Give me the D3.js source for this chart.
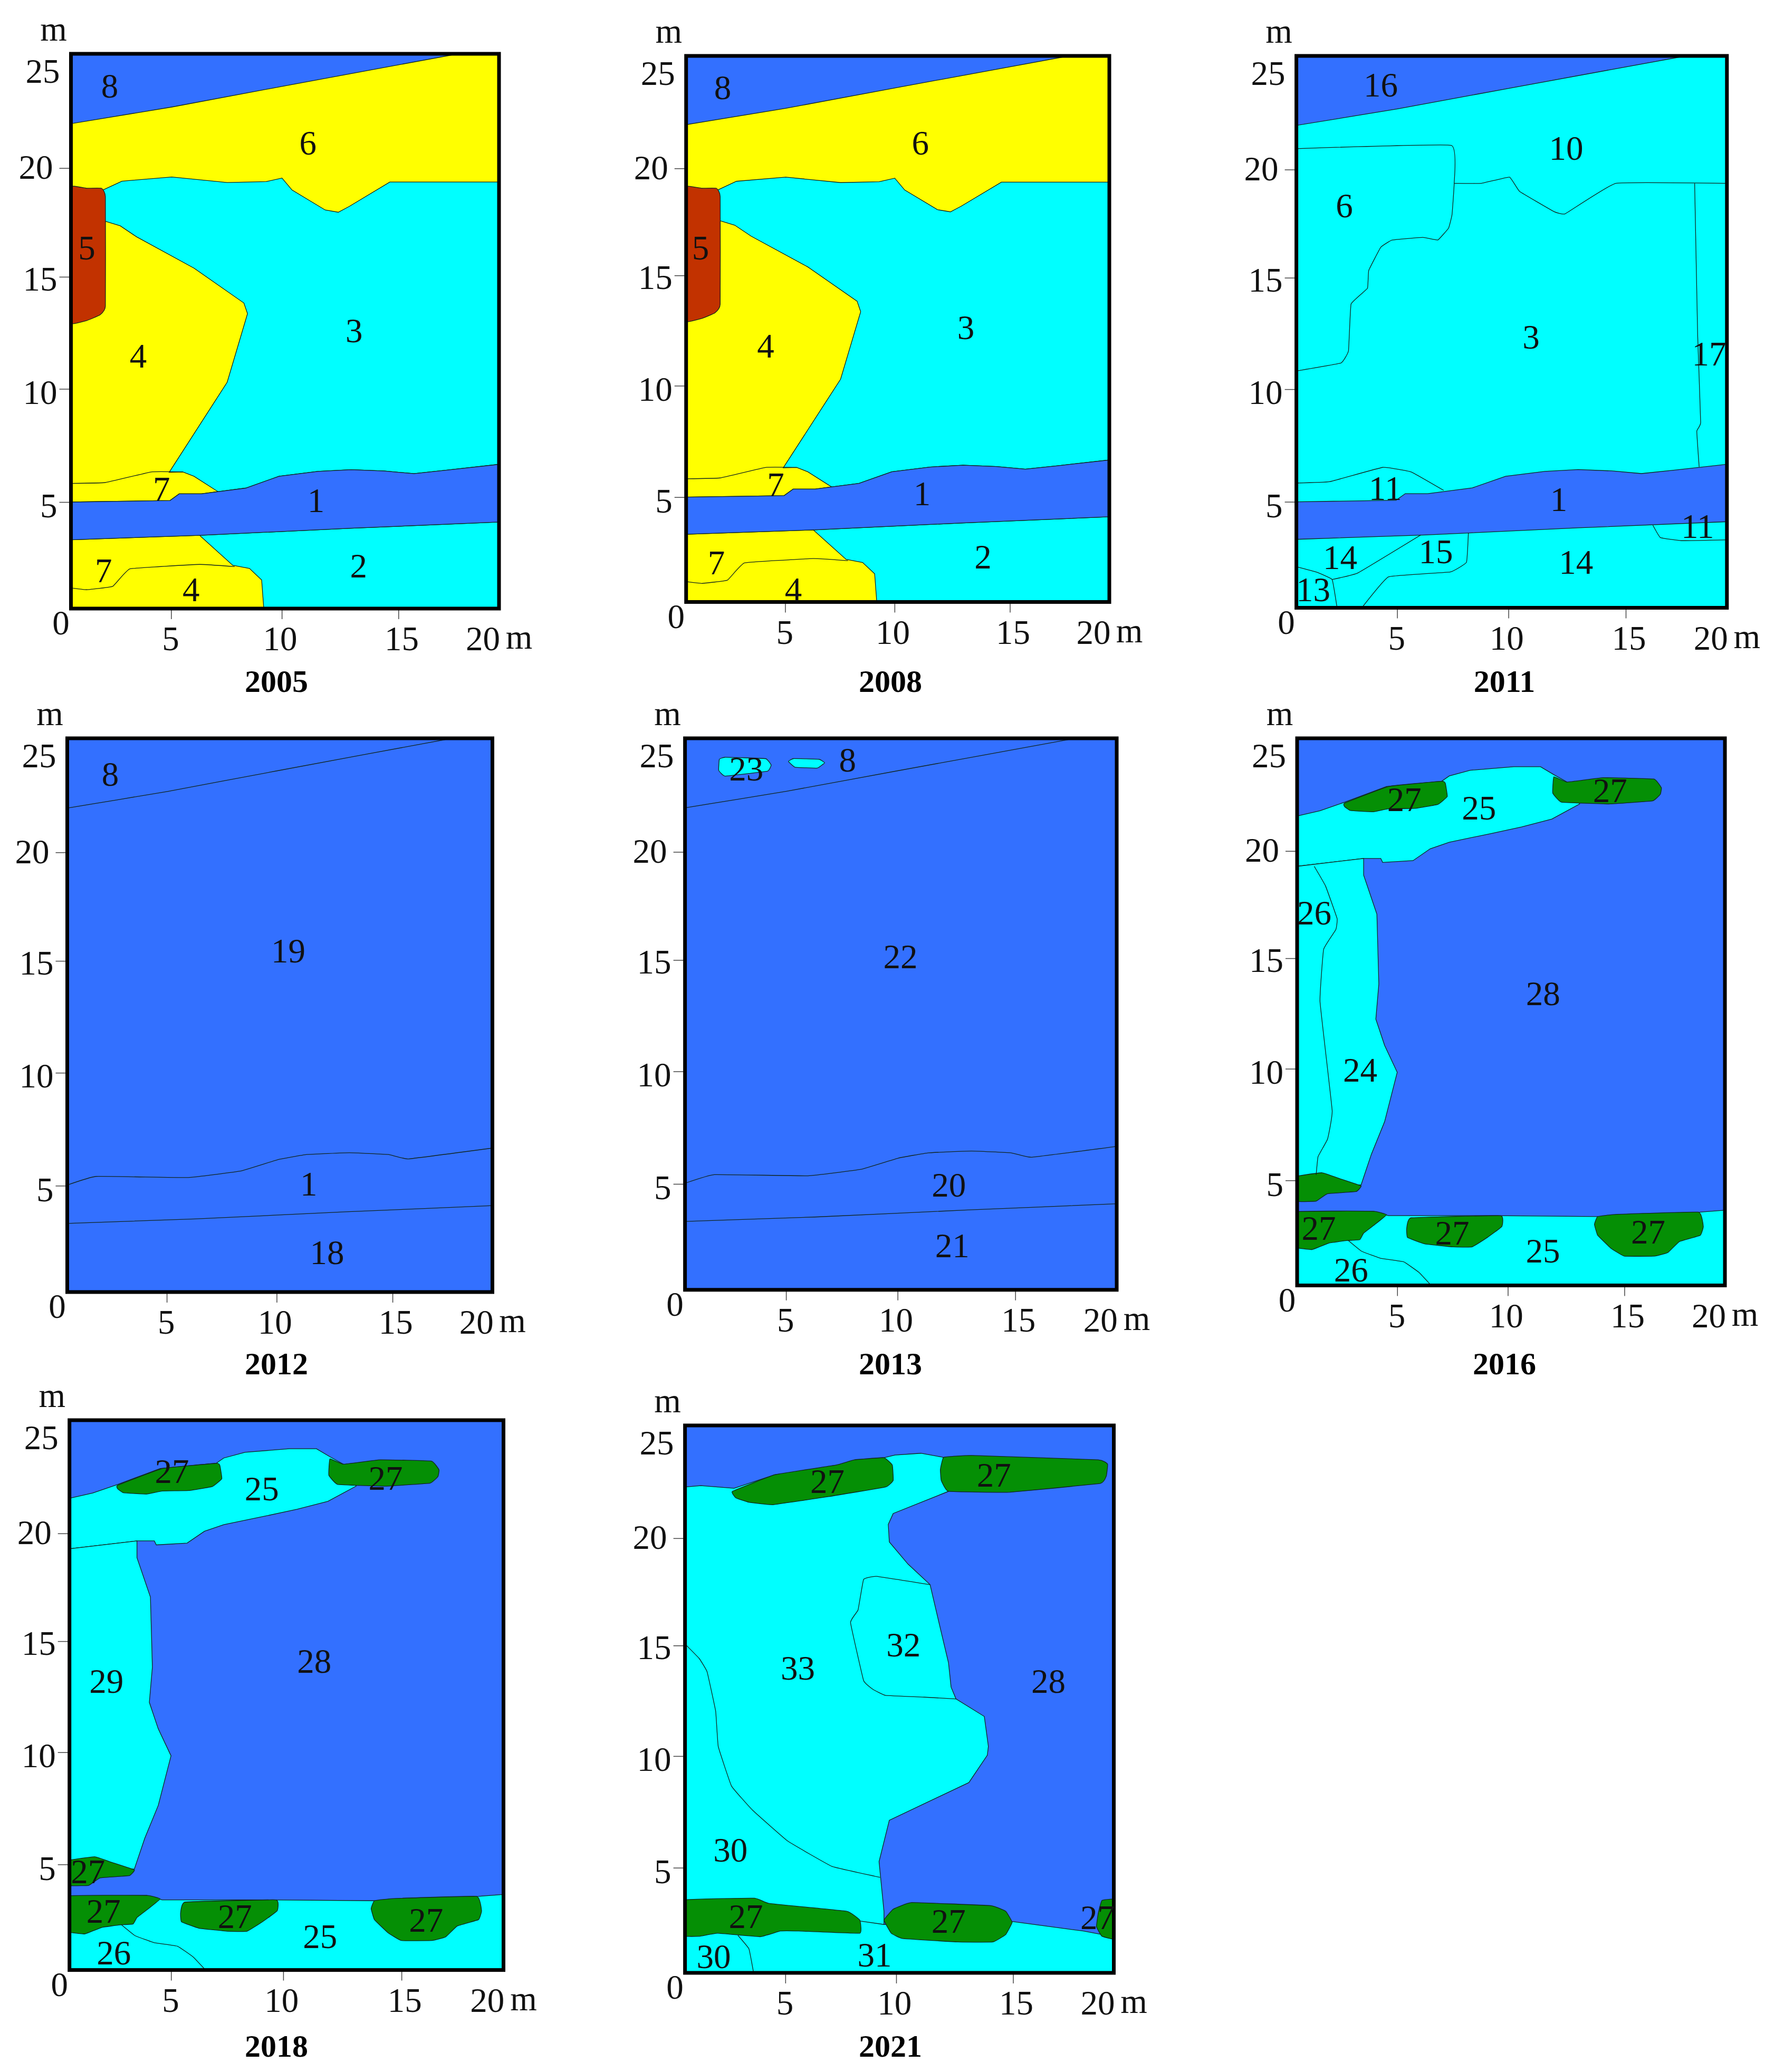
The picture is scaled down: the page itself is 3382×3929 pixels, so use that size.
<!DOCTYPE html>
<html>
<head>
<meta charset="utf-8">
<script src="https://cdn.jsdelivr.net/npm/d3@7"></script>
<style>
  body { margin: 0; background: #fff; }
  text { font-family: "Liberation Serif", serif; fill: #111; }
</style>
</head>
<body>
<svg id="chart" width="3382" height="3929"></svg>
<script>
// Axis readings, metres along the plot frame (the drawn ticks are a little uneven)
var xTickAt = [4.68, 9.85, 15.3];
var yTickAt = [4.8, 9.9, 14.95, 19.85];
var xLabels = ["5", "10", "15", "20"];
var xLabelAt = [4.66, 9.77, 15.45, 19.25];
var yLabels = ["5", "10", "15", "20", "25"];
var yLabelAt = [4.61, 9.74, 14.84, 19.87, 24.2];
var yLabelGap = [26, 26, 26, 34, 21];

// Boundaries shared by 2005 - 2013 (metres)
var top8Line = [[0, 21.85], [4.71, 22.6], [9.86, 23.53], [18.1, 25]];
var band1Top = [[0, 4.8], [4.63, 4.87], [5.06, 5.17], [6.1, 5.17], [8.17, 5.43], [9.72, 5.96], [11.54, 6.18], [13.09, 6.26], [14.64, 6.2], [16.03, 6.08], [17.58, 6.24], [20, 6.5]];
var band1TopPlain = [[0, 4.83], [1.36, 5.22], [5.7, 5.17], [8.14, 5.46], [9.88, 5.97], [11.27, 6.21], [13.27, 6.29], [15.1, 6.21], [16.05, 6.01], [20, 6.5]];
var band1Bottom = [[0, 3.1], [6.01, 3.3], [13.09, 3.62], [20, 3.9]];
var region3Top = [[1.49, 18.86], [2.38, 19.26], [4.71, 19.45], [7.3, 19.2], [9.12, 19.24], [9.86, 19.4], [10.33, 18.86], [11.88, 17.96], [12.49, 17.86], [13, 18.12], [14.9, 19.22], [20, 19.22]];
var region4Edge = [[1.61, 17.45], [2.3, 17.25], [3.07, 16.75], [5.75, 15.34], [8.08, 13.77], [8.25, 13.29], [7.3, 10.2], [4.59, 6.14]];
var upper7Top = [[0, 5.64], [1.61, 5.68], [3.76, 6.16], [5.23, 6.16], [5.75, 5.96], [6.87, 5.27]];
var lower7Edge = [[6.01, 3.3], [7.56, 1.95], [8.34, 1.81], [8.91, 1.29], [9.01, 0]];
var lower7Line = [[0, 0.93], [0.74, 0.85], [1.95, 1], [2.76, 1.79], [6.01, 1.99], [7.65, 1.89]];
var region5 = [[-0.3, 18.92], [0.74, 18.94], [1.43, 18.94], [1.61, 18.56], [1.61, 13.63], [1.35, 13.23], [0.74, 12.98], [-0.3, 12.92]];

// 2011 only
var line6 = [[0, 20.8], [7.19, 20.95], [7.33, 19.23], [7.23, 17.81], [7.07, 17.2], [6.57, 16.66], [5.87, 16.78], [4.45, 16.66], [3.92, 16.33], [3.36, 15.28], [3.3, 14.47], [2.54, 13.76], [2.42, 11.64], [2.07, 11.09], [0, 10.73]];
var line10 = [[7.33, 19.23], [8.6, 19.23], [9.9, 19.51], [10.37, 18.86], [11.96, 17.95], [12.49, 17.85], [14.84, 19.23], [20, 19.23]];
var line17 = [[18.5, 19.23], [18.64, 12.35], [18.78, 8.4], [18.6, 8], [18.71, 6.38]];
var line11Upper = [[0, 5.65], [1.54, 5.71], [4.01, 6.36], [5.34, 6.15], [6.84, 5.32]];
var line11Lower = [[16.56, 3.74], [16.91, 3.18], [17.88, 3.04], [20, 3.08]];
var line14 = [[5.78, 3.3], [2.86, 1.58], [1.66, 1.28]];
var line13 = [[0, 1.86], [0.92, 1.62], [1.66, 1.28], [1.89, 0]];
var line15 = [[7.99, 3.38], [7.9, 2.06], [7.14, 1.62], [4.28, 1.4], [3.04, 0]];

// 2013 only
var blob23a = [[1.59, 24.05], [1.85, 24.14], [3.73, 24.08], [3.99, 23.79], [3.82, 23.51], [1.85, 23.29], [1.56, 23.55]];
var blob23b = [[4.79, 23.95], [5.02, 24.08], [6.21, 24.05], [6.47, 23.89], [6.13, 23.65], [5.1, 23.69]];

// 2016 and 2018
var upper25 = [[0, 21.45], [1.07, 21.69], [2.22, 22.08], [4.18, 22.8], [6.76, 23.04], [7.11, 23.28], [8.09, 23.54], [10.13, 23.7], [11.38, 23.7], [12, 23.34], [12.62, 23], [13.21, 22], [11.91, 21.31], [10.49, 20.95], [9.07, 20.65], [7.11, 20.25], [6.22, 19.95], [5.42, 19.41], [4, 19.33], [3.91, 19.51], [3.11, 19.51], [0, 19.15]];
var left24 = [[0, 19.15], [3.11, 19.51], [3.11, 18.75], [3.73, 16.96], [3.82, 13.77], [3.68, 12.17], [4.09, 10.97], [4.68, 9.74], [4.09, 7.48], [3.47, 5.99], [2.99, 4.59], [0, 4.59]];
var line26 = [[0.8, 19.15], [1.33, 18.25], [1.87, 16.76], [1.81, 16.26], [1.24, 15.36], [1.07, 12.97], [1.64, 7.98], [1.42, 6.68], [0.98, 5.89], [0.89, 5.05]];
var lower25 = [[0, 3.35], [3.56, 3.39], [4.27, 3.19], [9.07, 3.19], [14.05, 3.15], [18.85, 3.35], [19.9, 3.43], [20, 3.43], [20, 0], [0, 0]];
var lower26 = [[2.4, 2.05], [3.02, 1.56], [3.91, 1.24], [4.98, 1.08], [5.69, 0.6], [6.22, 0.05]];
var green27 = [
  [[2.22, 22.04], [4.27, 22.8], [6.76, 23.04], [6.93, 22.94], [7.02, 22.34], [6.58, 21.98], [5.51, 21.8], [4.27, 21.78], [3.56, 21.64], [2.49, 21.7], [2.22, 21.88]],
  [[12, 23.24], [12.62, 23], [14.31, 23.2], [16.68, 23.14], [17.03, 22.74], [16.98, 22.44], [16.62, 22.14], [14.58, 22], [12.36, 22.08], [11.95, 22.5]],
  [[-0.3, 4.93], [1.16, 5.15], [1.96, 4.89], [2.99, 4.55], [2.76, 4.29], [1.42, 4.19], [0.89, 3.85], [0.18, 3.83], [-0.3, 3.89]],
  [[-0.3, 3.35], [3.56, 3.39], [4.18, 3.23], [3.64, 2.79], [3.11, 2.39], [2.93, 2.09], [2.31, 2.05], [1.51, 1.94], [0.71, 1.64], [0.09, 1.7], [-0.3, 1.76]],
  [[5.33, 3.09], [9.51, 3.19], [9.57, 2.69], [8.89, 2.19], [8.18, 1.76], [7.29, 1.76], [5.96, 1.9], [5.16, 2.19], [5.12, 2.59]],
  [[14.05, 3.15], [14.94, 3.25], [18.76, 3.35], [18.99, 2.69], [18.85, 2.29], [17.87, 2], [17.33, 1.5], [16.71, 1.34], [15.29, 1.34], [14.67, 1.7], [14.05, 2.29], [13.9, 2.79]]
];

// 2021
var cyan2021 = [[0, 22.19], [0.74, 22.25], [2.29, 22.13], [4.19, 22.75], [7.03, 23.09], [8.07, 23.43], [9.28, 23.53], [9.79, 23.65], [11, 23.73], [12.03, 23.55], [12.29, 21.99], [9.71, 20.98], [9.48, 20.48], [9.53, 19.68], [10.4, 18.67], [11.43, 17.73], [11.95, 15.56], [12.29, 14.16], [12.41, 13.05], [12.64, 12.51], [13.96, 11.71], [14.15, 10.34], [14.1, 9.94], [13.24, 8.69], [9.53, 6.97], [9.05, 5.08], [9.28, 2.81], [9.28, 2.21], [15.22, 2.35], [18.58, 1.91], [20, 1.65], [20, 0], [0, 0]];
var green2021 = [
  [[-0.3, 3.31], [3.24, 3.41], [3.93, 3.17], [7.55, 2.81], [8.15, 2.41], [8.15, 1.81], [5.31, 1.91], [4.45, 1.91], [3.5, 1.65], [1.52, 1.81], [0.66, 1.67], [-0.3, 1.71]],
  [[9.28, 2.41], [9.71, 2.91], [10.57, 3.21], [14.27, 3.07], [14.96, 2.81], [15.26, 2.31], [14.96, 1.75], [14.36, 1.41], [12.72, 1.41], [10.14, 1.57], [9.62, 1.81]],
  [[20.3, 3.35], [19.45, 3.31], [19.27, 2.71], [19.19, 2.11], [19.45, 1.67], [20.3, 1.51]],
  [[2.21, 21.99], [4.19, 22.75], [7.03, 23.19], [7.9, 23.43], [9.28, 23.53], [9.67, 23.19], [9.71, 22.49], [9.36, 22.19], [6.69, 21.75], [4.1, 21.38], [2.98, 21.49], [2.38, 21.69]],
  [[12.07, 23.55], [13.41, 23.63], [19.27, 23.43], [19.71, 23.23], [19.65, 22.69], [19.36, 22.35], [15.14, 21.95], [12.29, 21.99], [11.95, 22.49], [11.91, 22.99]]
];
var line30 = [[0, 15.02], [0.66, 14.36], [1.03, 13.75], [1.43, 11.95], [1.55, 10.34], [2.17, 8.53], [3.15, 7.43], [4.79, 6.02], [6.86, 4.86], [9.1, 4.36]];
var line32 = [[11.43, 17.73], [8.93, 18.11], [8.33, 17.97], [8.07, 16.57], [7.72, 16], [8.33, 13.35], [8.76, 12.95], [9.36, 12.67], [11.17, 12.59], [12.64, 12.51]];
var line30Lower = [[2.47, 1.71], [2.98, 1.1], [3.19, 0.05]];
var line31 = [[8.15, 2.37], [9.28, 2.21]];

// Zone numbers: [text, x, y]
var labels2005 = [["8", 1.81, 23.53], ["6", 11.07, 20.98], ["5", 0.74, 16.25], ["4", 3.14, 11.37], ["3", 13.23, 12.52], ["7", 4.23, 5.37], ["1", 11.45, 4.87], ["2", 13.44, 1.91], ["7", 1.52, 1.69], ["4", 5.61, 0.85]];
var labels2008 = [["8", 1.73, 23.53], ["6", 11.07, 21], ["5", 0.68, 16.2], ["4", 3.76, 11.7], ["3", 13.22, 12.56], ["7", 4.23, 5.36], ["1", 11.15, 4.95], ["2", 14.03, 2.05], ["7", 1.43, 1.78], ["4", 5.07, 0.55]];
var labels2011 = [["16", 3.92, 23.68], ["10", 12.53, 20.8], ["6", 2.23, 18.2], ["3", 10.9, 12.25], ["17", 19.17, 11.5], ["11", 4.13, 5.4], ["1", 12.19, 4.9], ["11", 18.64, 3.68], ["14", 2.03, 2.27], ["15", 6.48, 2.53], ["14", 12.99, 2.06], ["13", 0.78, 0.81]];
var labels2012 = [["8", 2.02, 23.37], ["19", 10.4, 15.38], ["1", 11.36, 4.87], ["18", 12.22, 1.77]];
var labels2013 = [["23", 2.84, 23.6], ["8", 7.53, 24], ["22", 9.98, 15.08], ["20", 12.22, 4.75], ["21", 12.38, 1.98]];
var labels2016 = [["27", 5.01, 22.18], ["27", 14.63, 22.6], ["25", 8.5, 21.8], ["26", 0.8, 17], ["24", 2.95, 9.83], ["28", 11.5, 13.33], ["27", 1.01, 2.59], ["27", 7.25, 2.39], ["27", 16.41, 2.43], ["25", 11.49, 1.56], ["26", 2.52, 0.7]];
var labels2018 = [["27", 4.72, 22.66], ["25", 8.86, 21.86], ["27", 14.57, 22.36], ["29", 1.7, 13.12], ["28", 11.28, 14.02], ["27", 0.85, 4.46], ["27", 1.57, 2.66], ["27", 7.62, 2.42], ["27", 16.43, 2.26], ["25", 11.55, 1.5], ["26", 2.04, 0.76]];
var labels2021 = [["27", 6.64, 22.43], ["27", 14.41, 22.73], ["33", 5.26, 13.9], ["32", 10.19, 14.96], ["28", 16.95, 13.31], ["30", 2.12, 5.6], ["27", 2.84, 2.57], ["27", 12.29, 2.35], ["27", 19.24, 2.51], ["30", 1.34, 0.74], ["31", 8.84, 0.8]];

var BLUE = "#3370ff", CYAN = "#00ffff", YELLOW = "#ffff00", GREEN = "#058f05", BROWN = "#c23200";

var rev = function (a) { return a.slice().reverse(); };
var poly8 = [[0, 25]].concat(rev(top8Line));
var band1 = band1Top.concat(rev(band1Bottom));
var lowerPoly = band1Bottom.concat([[20, 0], [0, 0]]);
var region3 = region3Top.concat([[20, 6.5]], rev(band1Top), [[0, 18.9]]);
var region4 = [[0, 12.9], [0, 18], [1.61, 17.45]].concat(region4Edge, upper7Top.slice(3), rev(band1Top).slice(8), [[0, 4.8]]);
var lower7 = [[0, 3.1]].concat(lower7Edge, [[0, 0]]);

// Each panel: plot frame on the page, title, and what to draw
var panels = [
  { title: "2005", l: 134.5, r: 946, t: 102, b: 1154, cx: 524, ty: 1292, labels: labels2005, draw: drawYellowMap },
  { title: "2008", l: 1300.7, r: 2103, t: 106, b: 1141.5, cx: 1688, ty: 1292, labels: labels2008, draw: drawYellowMap },
  { title: "2011", l: 2457.6, r: 3273.8, t: 106, b: 1152.5, cx: 2852, ty: 1292, labels: labels2011, draw: draw2011 },
  { title: "2012", l: 127.5, r: 933.5, t: 1400, b: 2450, cx: 524, ty: 2586, labels: labels2012, draw: drawBlueMap },
  { title: "2013", l: 1298.6, r: 2117, t: 1400, b: 2445.8, cx: 1688, ty: 2586, labels: labels2013, draw: draw2013 },
  { title: "2016", l: 2459, r: 3270, t: 1400, b: 2437.5, cx: 2852, ty: 2586, labels: labels2016, draw: draw2016 },
  { title: "2018", l: 131.7, r: 954.5, t: 2693, b: 3735.6, cx: 524, ty: 3880, labels: labels2018, draw: draw2018 },
  { title: "2021", l: 1298.6, r: 2111.5, t: 2703, b: 3741, cx: 1688, ty: 3880, labels: labels2021, draw: draw2021 }
];

var svg = d3.select("#chart");
svg.append("rect").attr("width", 3382).attr("height", 3929).attr("fill", "#fff");

function drawYellowMap(fill, stroke, blob) {
  fill(poly8, BLUE);
  fill(region3, CYAN);
  fill(region4, YELLOW);
  fill(lowerPoly, CYAN);
  fill(lower7, YELLOW);
  fill(band1, BLUE);
  stroke(upper7Top.slice(0, 4));
  stroke(lower7Line);
  blob(region5, BROWN);
}

function draw2011(fill, stroke) {
  fill(poly8, BLUE);
  fill(band1, BLUE);
  [line6, line10, line17, line11Upper, line11Lower, line14, line13, line15].forEach(stroke);
}

function drawBlueMap(fill, stroke) {
  [top8Line, band1TopPlain, band1Bottom].forEach(stroke);
}

function draw2013(fill, stroke, blob) {
  drawBlueMap(fill, stroke);
  blob(blob23a, CYAN);
  blob(blob23b, CYAN);
}

function draw2018(fill, stroke, blob) {
  fill(upper25, CYAN);
  fill(left24, CYAN);
  fill(lower25, CYAN);
  stroke(lower26);
  green27.forEach(function (g) { blob(g, GREEN); });
}

function draw2016(fill, stroke, blob) {
  draw2018(fill, stroke, blob);
  stroke(line26);
}

function draw2021(fill, stroke, blob) {
  fill(cyan2021, CYAN);
  [line30, line32, line30Lower, line31].forEach(stroke);
  green2021.forEach(function (g) { blob(g, GREEN); });
}

var background = { "2005": YELLOW, "2008": YELLOW, "2011": CYAN };
var INK = "#12261e", INK_WIDTH = 1.3, FONT = 65;

panels.forEach(function (p, i) {
  var x = d3.scaleLinear().domain([0, 20]).range([p.l, p.r]);
  var y = d3.scaleLinear().domain([0, 25]).range([p.b, p.t]);
  var line = d3.line().x(function (d) { return x(d[0]); }).y(function (d) { return y(d[1]); });
  // Tight tension: only the corners get rounded, no overshoot
  var roundLine = d3.line().x(line.x()).y(line.y()).curve(d3.curveCardinal.tension(0.75));
  var roundBlob = d3.line().x(line.x()).y(line.y()).curve(d3.curveCardinalClosed.tension(0.75));
  var g = svg.append("g");

  g.append("clipPath").attr("id", "frame" + i).append("rect")
    .attr("x", p.l).attr("y", p.t).attr("width", p.r - p.l).attr("height", p.b - p.t);

  var map = g.append("g").attr("clip-path", "url(#frame" + i + ")");
  map.append("rect").attr("x", p.l).attr("y", p.t).attr("width", p.r - p.l).attr("height", p.b - p.t)
    .attr("fill", background[p.title] || BLUE);

  var fill = function (pts, colour) {
    map.append("path").attr("d", line(pts) + "Z").attr("fill", colour)
      .attr("stroke", INK).attr("stroke-width", INK_WIDTH);
  };
  var stroke = function (pts) {
    map.append("path").attr("d", roundLine(pts)).attr("fill", "none")
      .attr("stroke", INK).attr("stroke-width", INK_WIDTH);
  };
  var blob = function (pts, colour) {
    map.append("path").attr("d", roundBlob(pts)).attr("fill", colour)
      .attr("stroke", INK).attr("stroke-width", INK_WIDTH);
  };
  p.draw(fill, stroke, blob);

  // Ticks
  var xAxis = d3.axisBottom(x).tickValues(xTickAt).tickSize(20).tickFormat("");
  var yAxis = d3.axisLeft(y).tickValues(yTickAt).tickSize(22).tickFormat("");
  [g.append("g").attr("transform", "translate(0," + p.b + ")").call(xAxis),
   g.append("g").attr("transform", "translate(" + p.l + ",0)").call(yAxis)].forEach(function (a) {
    a.select(".domain").remove();
    a.selectAll("line").attr("stroke", "#444").attr("stroke-width", 1.5);
  });

  // Frame on top of the map
  g.append("rect").attr("x", p.l).attr("y", p.t).attr("width", p.r - p.l).attr("height", p.b - p.t)
    .attr("fill", "none").attr("stroke", "#000").attr("stroke-width", 7);

  // Zone numbers
  g.selectAll("text.zone").data(p.labels).join("text").attr("class", "zone")
    .attr("x", function (d) { return x(d[1]); }).attr("y", function (d) { return y(d[2]); })
    .attr("dy", "0.33em").attr("text-anchor", "middle").attr("font-size", FONT)
    .text(function (d) { return d[0]; });

  // Axis labels
  g.selectAll("text.xl").data(xLabels).join("text").attr("class", "xl")
    .attr("x", function (d, j) { return x(xLabelAt[j]); }).attr("y", p.b + 58)
    .attr("dy", "0.33em").attr("text-anchor", "middle").attr("font-size", FONT)
    .text(function (d) { return d; });
  g.selectAll("text.yl").data(yLabels).join("text").attr("class", "yl")
    .attr("x", function (d, j) { return p.l - yLabelGap[j]; }).attr("y", function (d, j) { return y(yLabelAt[j]); })
    .attr("dy", "0.33em").attr("text-anchor", "end").attr("font-size", FONT)
    .text(function (d) { return d; });
  g.append("text").attr("x", p.l - 19).attr("y", p.b + 28).attr("dy", "0.33em")
    .attr("text-anchor", "middle").attr("font-size", FONT).text("0");
  g.append("text").attr("x", p.l - 33).attr("y", p.t - 38).attr("dy", "0.2em")
    .attr("text-anchor", "middle").attr("font-size", FONT).text("m");
  g.append("text").attr("x", p.r + 38).attr("y", p.b + 63).attr("dy", "0.2em")
    .attr("text-anchor", "middle").attr("font-size", FONT).text("m");

  // Year
  g.append("text").attr("x", p.cx).attr("y", p.ty).attr("dy", "0.33em")
    .attr("text-anchor", "middle").attr("font-size", 60).attr("font-weight", "bold")
    .style("fill", "#000").text(p.title);
});
</script>
</body>
</html>
